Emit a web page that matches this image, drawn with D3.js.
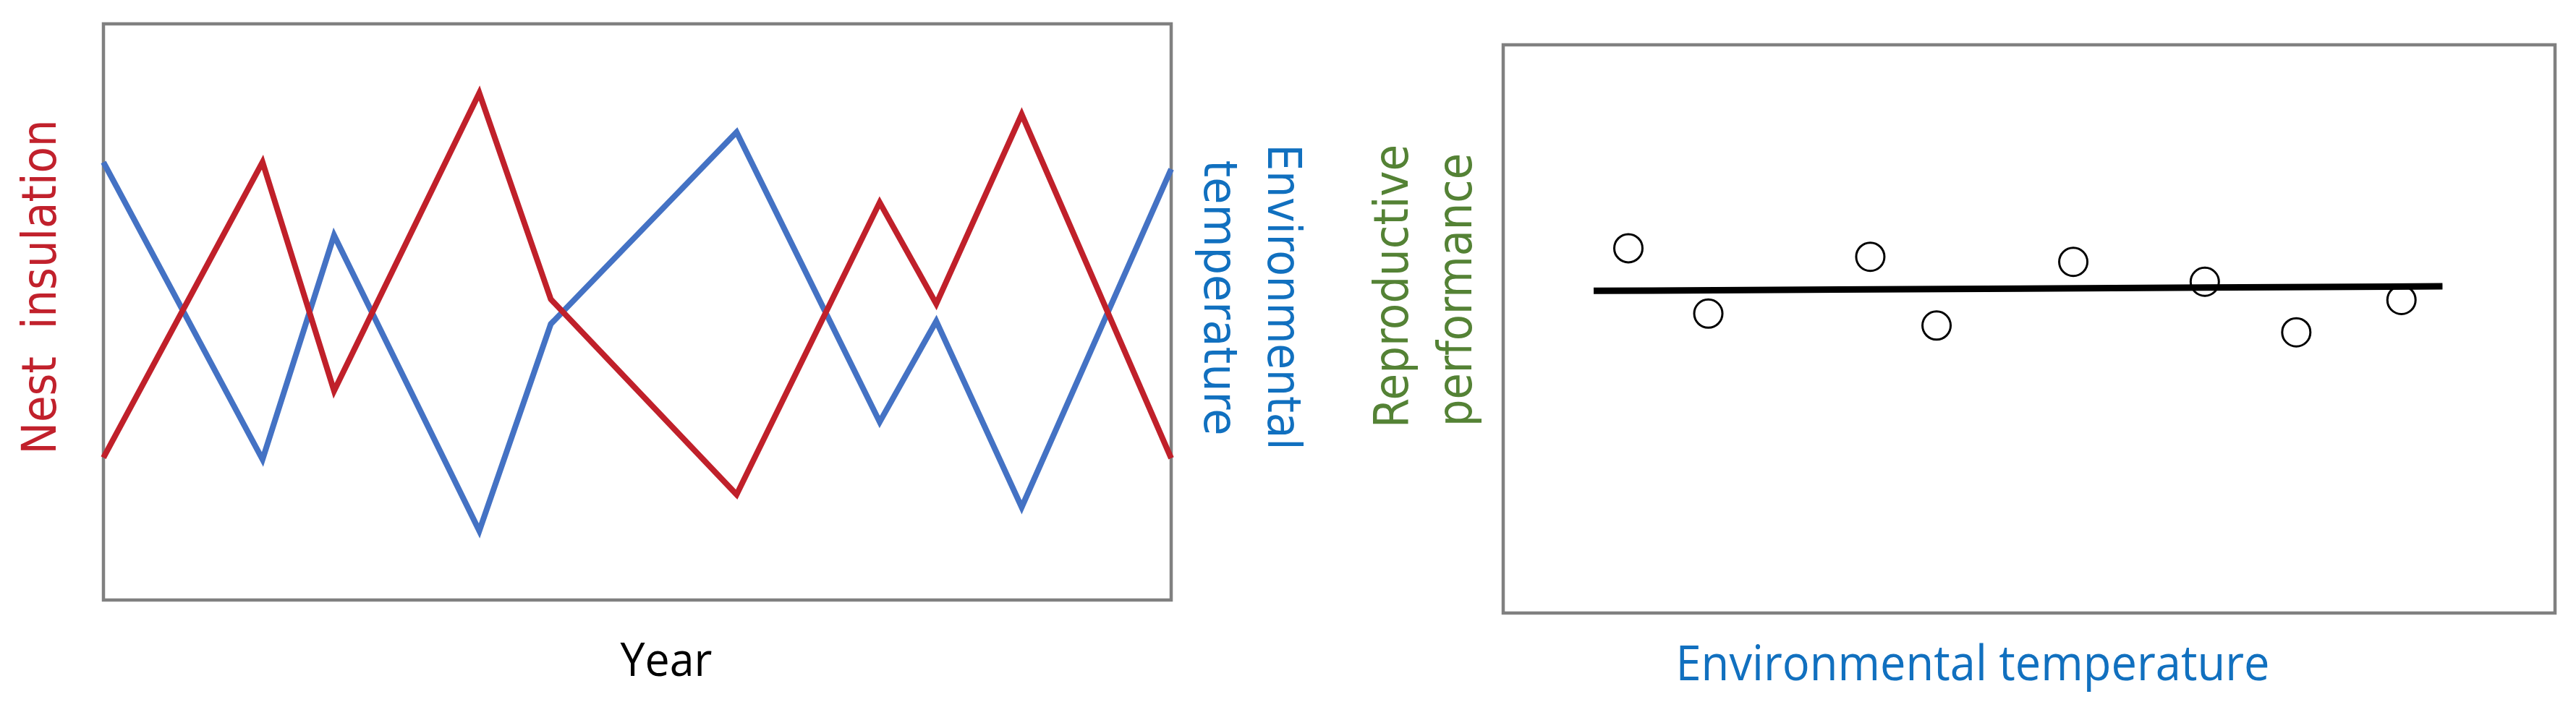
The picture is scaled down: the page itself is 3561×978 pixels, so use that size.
<!DOCTYPE html>
<html lang="en">
<head>
<meta charset="UTF-8">
<title>Nest insulation and environmental temperature</title>
<script src="https://d3js.org/d3.v7.min.js"></script>
<style>
  body { margin: 0; background: #fff; }
  svg { display: block; }
  text { white-space: pre; }
</style>
</head>
<body>
<svg id="chart" width="3561" height="978"></svg>
<script>
// left panel: two series over years (position 0-100 across the box)
const years = [0, 14.9, 21.6, 35.2, 41.9, 59.3, 72.7, 78.0, 86.0, 100];
const insulation = [24.7, 76.0, 36.3, 88.0, 52.2, 18.3, 69.0, 51.4, 84.3, 24.6];
const temperature = [76.0, 24.4, 63.3, 12.0, 47.9, 81.2, 30.9, 48.4, 16.1, 74.8];

// right panel: scatter of performance against temperature, plus flat fit
const tempX = [11.9, 19.5, 34.9, 41.2, 54.2, 66.7, 75.4, 85.4];
const performance = [64.2, 52.7, 62.7, 50.6, 61.8, 58.3, 49.4, 55.1];
const fitX = [8.6, 89.3];
const fitY = [56.7, 57.5];

const svg = d3.select("#chart");

// panel boxes
const left = {x0: 143, x1: 1619, y0: 33, y1: 830};
const right = {x0: 2078, x1: 3532, y0: 62, y1: 848};

const xL = d3.scaleLinear().domain([0, 100]).range([left.x0, left.x1]);
const yL = d3.scaleLinear().domain([0, 100]).range([left.y1, left.y0]);
const xR = d3.scaleLinear().domain([0, 100]).range([right.x0, right.x1]);
const yR = d3.scaleLinear().domain([0, 100]).range([right.y1, right.y0]);

function drawBox(b) {
  svg.append("rect")
    .attr("x", b.x0).attr("y", b.y0)
    .attr("width", b.x1 - b.x0).attr("height", b.y1 - b.y0)
    .attr("fill", "none")
    .attr("stroke", "#808080")
    .attr("stroke-width", 4.5);
}
drawBox(left);
drawBox(right);

// left panel lines
const lineL = d3.line()
  .x(d => xL(d[0]))
  .y(d => yL(d[1]));

svg.append("path")
  .datum(d3.zip(years, temperature))
  .attr("d", lineL)
  .attr("fill", "none")
  .attr("stroke", "#4472C4")
  .attr("stroke-width", 8)
  .attr("stroke-linejoin", "miter");

svg.append("path")
  .datum(d3.zip(years, insulation))
  .attr("d", lineL)
  .attr("fill", "none")
  .attr("stroke", "#C0202A")
  .attr("stroke-width", 8)
  .attr("stroke-linejoin", "miter");

// right panel fit line and points
svg.append("path")
  .datum(d3.zip(fitX, fitY))
  .attr("d", d3.line().x(d => xR(d[0])).y(d => yR(d[1])))
  .attr("fill", "none")
  .attr("stroke", "#000")
  .attr("stroke-width", 9);

svg.selectAll(".pt")
  .data(d3.zip(tempX, performance))
  .join("circle")
  .attr("class", "pt")
  .attr("cx", d => xR(d[0]))
  .attr("cy", d => yR(d[1]))
  .attr("r", 19.5)
  .attr("fill", "none")
  .attr("stroke", "#000")
  .attr("stroke-width", 3);

// labels; textLength squeezes them to the reference's proportions
function label(txt, x, y, rot, size, len, color, family) {
  svg.append("text")
    .attr("transform", `translate(${x},${y}) rotate(${rot})`)
    .attr("text-anchor", "middle")
    .attr("font-family", family)
    .attr("font-size", size)
    .attr("fill", color)
    .attr("textLength", len)
    .attr("lengthAdjust", "spacingAndGlyphs")
    .text(txt);
}

const sans = "'DejaVu Sans', Verdana, sans-serif";
const narrow = "'Open Sans', 'Noto Sans', sans-serif";

label("Nest  insulation", 77, 397, -90, 66, 463, "#C1212C", sans);
label("Environmental", 1753, 411, 90, 64, 423, "#1170BF", sans);
label("temperature", 1665, 412, 90, 64, 381, "#1170BF", sans);
label("Reproductive", 1946, 396, -90, 66, 392, "#548235", sans);
label("performance", 2034, 401, -90, 66, 378, "#548235", sans);
label("Year", 921, 935, 0, 64, 127, "#000", narrow);
label("Environmental temperature", 2727, 941, 0, 67, 821, "#1170BF", narrow);
</script>
</body>
</html>
